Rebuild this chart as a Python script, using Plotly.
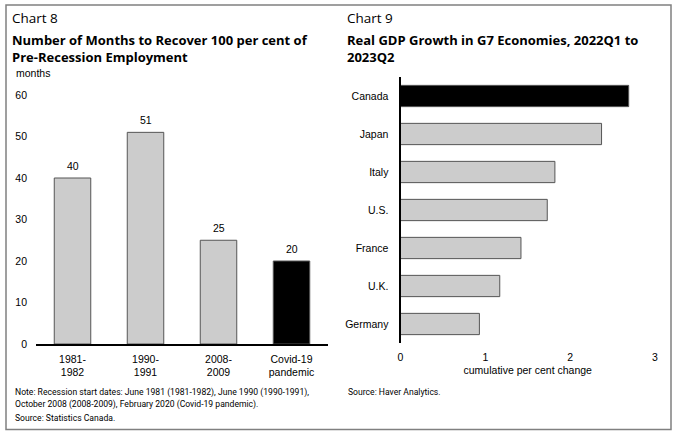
import plotly.graph_objects as go

W, H = 680, 439

# Chart 8 data
recessions = ["1981-<br>1982", "1990-<br>1991", "2008-<br>2009", "Covid-19<br>pandemic"]
months_to_recover = [40, 51, 25, 20]
rec_colors = ["#cccccc", "#cccccc", "#cccccc", "#000000"]

# Chart 9 data
countries = ["Canada", "Japan", "Italy", "U.S.", "France", "U.K.", "Germany"]
gdp_growth = [2.69, 2.37, 1.82, 1.73, 1.42, 1.17, 0.93]
gdp_colors = ["#000000"] + ["#cccccc"] * 6

def px(x):
    return x / W

def py(y):
    return 1 - y / H

fig = go.Figure()

fig.add_trace(go.Bar(
    x=recessions, y=months_to_recover,
    marker=dict(color=rec_colors, line=dict(color="#555555", width=1)),
    cliponaxis=False, width=0.5,
    xaxis="x", yaxis="y", showlegend=False, hoverinfo="skip",
))

fig.add_trace(go.Bar(
    y=countries, x=gdp_growth, orientation="h",
    marker=dict(color=gdp_colors, line=dict(color="#555555", width=1)),
    width=0.56,
    xaxis="x2", yaxis="y2", showlegend=False, hoverinfo="skip",
))

tickfont = dict(family="Liberation Sans, Arial", size=10.5, color="#000")

fig.update_layout(
    width=W, height=H,
    margin=dict(l=0, r=0, t=0, b=0, autoexpand=False),
    paper_bgcolor="white", plot_bgcolor="white",
    xaxis=dict(domain=[px(36), px(328)], range=[-0.5, 3.5], showline=True,
               linecolor="#000", linewidth=2, tickfont=tickfont, ticks="",
               showgrid=False, zeroline=False, anchor="y", ticklabelstandoff=4,
               automargin=False),
    yaxis=dict(domain=[py(344), py(95)], range=[0, 60], dtick=10,
               showgrid=False, zeroline=False, showline=False,
               tickfont=tickfont, anchor="x", ticklabelstandoff=8,
               automargin=False),
    xaxis2=dict(domain=[px(400.5), px(655)], range=[0, 3], dtick=1,
                showline=False, showgrid=False, zeroline=False,
                tickfont=tickfont, anchor="y2", ticklabelstandoff=6,
                automargin=False,
                title=dict(text="cumulative per cent change", font=tickfont, standoff=5)),
    yaxis2=dict(domain=[py(343), py(77)], range=[6.5, -0.5], showline=True,
                linecolor="#000", linewidth=2, showgrid=False, zeroline=False,
                tickfont=tickfont, anchor="x2", ticklabelstandoff=8,
                automargin=False,
                categoryorder="array", categoryarray=countries),
    font=dict(family="Liberation Sans, Arial", color="#000"),
)

# value labels above the bars
for cat, val in zip(recessions, months_to_recover):
    fig.add_annotation(text=str(val), x=cat, y=val, xref="x", yref="y",
                       xanchor="center", yanchor="bottom", yshift=4,
                       showarrow=False, font=tickfont)

def ann(text, x, y, size, family="Open Sans", xanchor="left"):
    fig.add_annotation(text=text, x=px(x), y=py(y), xref="paper", yref="paper",
                       xanchor=xanchor, yanchor="middle", showarrow=False,
                       align="left",
                       font=dict(family=family, size=size, color="#000"))

ann("Chart 8", 10, 18, 13.5)
ann("<b>Number of Months to Recover 100 per cent of</b><br><b>Pre-Recession Employment</b>",
    10, 48.5, 13)
ann("months", 14, 73, 10.5, family="Liberation Sans, Arial")

ann("Chart 9", 345, 18, 13.5)
ann("<b>Real GDP Growth in G7 Economies, 2022Q1 to</b><br><b>2023Q2</b>", 345, 48.5, 13)

notefam = "Roboto"
ann("Note: Recession start dates: June 1981 (1981-1982), June 1990 (1990-1991),", 13, 392, 8.6, family=notefam)
ann("October 2008 (2008-2009), February 2020 (Covid-19 pandemic).", 13, 404.5, 8.6, family=notefam)
ann("Source: Statistics Canada.", 13, 417.5, 8.6, family=notefam)
ann("Source: Haver Analytics.", 346, 392, 8.6, family=notefam)

fig.add_shape(type="rect", xref="paper", yref="paper",
              x0=px(6), x1=px(671), y0=py(429.5), y1=py(5),
              line=dict(color="#808080", width=1.5), fillcolor="rgba(0,0,0,0)")

fig.write_html(
    "out.html",
    config={"displayModeBar": False},
    post_script="document.documentElement.style.overflow='hidden';"
                "document.body.style.margin='0';document.body.style.overflow='hidden';",
)
